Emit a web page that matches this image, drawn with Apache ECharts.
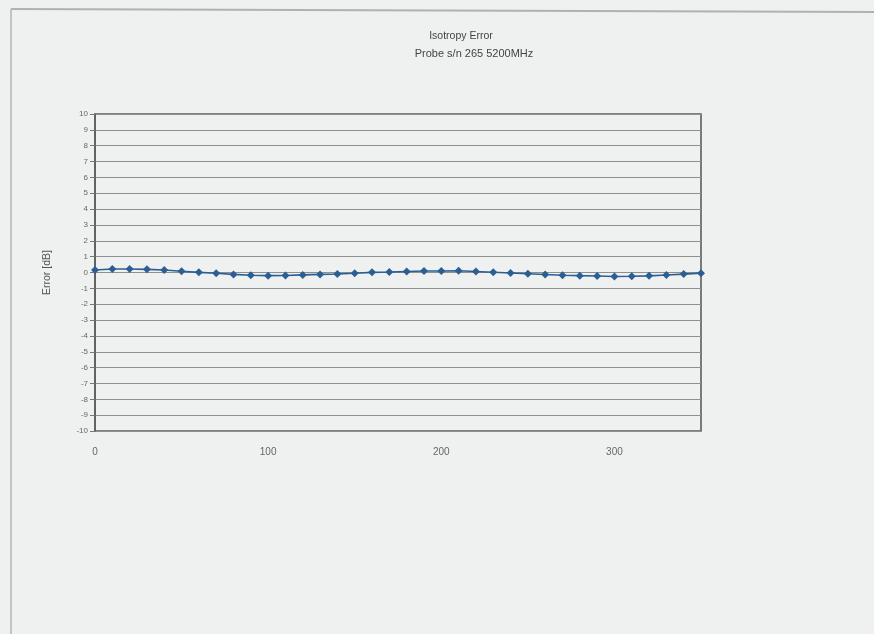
<!DOCTYPE html>
<html>
<head>
<meta charset="utf-8">
<title>Isotropy Error</title>
<script src="https://cdn.jsdelivr.net/npm/echarts@6/dist/echarts.min.js"></script>
<style>
  html, body { margin: 0; padding: 0; background: #eff1f1; }
  #chart { width: 874px; height: 634px; }
</style>
</head>
<body>
<div id="chart"></div>
<script>
// Rotation angle (degrees) and measured isotropy error (dB)
const angles = [0, 10, 20, 30, 40, 50, 60, 70, 80, 90, 100, 110, 120, 130, 140, 150, 160, 170,
                180, 190, 200, 210, 220, 230, 240, 250, 260, 270, 280, 290, 300, 310, 320, 330, 340, 350];
const errorDb = [0.16, 0.22, 0.22, 0.20, 0.16, 0.08, 0.01, -0.05, -0.12, -0.17, -0.20, -0.19, -0.15, -0.12, -0.09, -0.05, 0.01, 0.03,
                 0.06, 0.09, 0.09, 0.11, 0.06, 0.02, -0.03, -0.08, -0.13, -0.17, -0.20, -0.22, -0.25, -0.24, -0.21, -0.16, -0.10, -0.04];
const titleText = 'Isotropy Error';
const subtitleText = 'Probe s/n 265 5200MHz';
const yAxisName = 'Error [dB]';

const points = angles.map((a, i) => [a, errorDb[i]]);
const font = 'Liberation Sans, Arial, sans-serif';

const chart = echarts.init(document.getElementById('chart'), null, { renderer: 'canvas' });
chart.setOption({
  backgroundColor: '#eff1f1',
  animation: false,
  title: [
    {
      text: titleText,
      left: 456, textAlign: 'center', top: 26,
      textStyle: { fontFamily: font, fontSize: 10.5, fontWeight: 'normal', color: '#444' }
    },
    {
      text: subtitleText,
      left: 469, textAlign: 'center', top: 43,
      textStyle: { fontFamily: font, fontSize: 11, fontWeight: 'normal', color: '#444' }
    }
  ],
  graphic: [
    // page frame
    { type: 'line', shape: { x1: 11, y1: 9, x2: 874, y2: 12 },
      style: { stroke: '#aeb2b2', lineWidth: 2 }, silent: true },
    { type: 'line', shape: { x1: 11, y1: 9, x2: 11, y2: 634 },
      style: { stroke: '#c0c4c4', lineWidth: 2 }, silent: true }
  ],
  grid: {
    left: 95, right: 173, top: 114, bottom: 203,
    show: true,
    borderColor: '#5c5e5e',
    borderWidth: 1.6,
    backgroundColor: 'rgba(0,0,0,0)'
  },
  xAxis: {
    type: 'value',
    min: 0, max: 350, interval: 100,
    axisLine: { show: false },
    axisTick: { show: false },
    splitLine: { show: false },
    axisLabel: {
      margin: 16,
      fontFamily: font,
      fontSize: 10,
      color: '#666',
      showMaxLabel: false
    }
  },
  yAxis: {
    type: 'value',
    min: -10, max: 10, interval: 1,
    name: yAxisName,
    nameLocation: 'middle',
    nameGap: 42,
    nameRotate: 90,
    nameTextStyle: { fontFamily: font, fontSize: 10.5, color: '#555' },
    axisLine: { show: true, lineStyle: { color: '#5c5e5e', width: 1.6 } },
    axisTick: { show: true, inside: false, length: 5, lineStyle: { color: '#777' } },
    splitLine: { show: true, lineStyle: { color: '#8e9090', width: 1.2 } },
    axisLabel: { margin: 7, fontFamily: font, fontSize: 8, color: '#666' }
  },
  series: [{
    type: 'line',
    data: points,
    symbol: 'diamond',
    symbolSize: 8,
    showAllSymbol: true,
    lineStyle: { color: '#2b5f93', width: 1.6 },
    itemStyle: { color: '#2b5f93' }
  }]
});
</script>
</body>
</html>
